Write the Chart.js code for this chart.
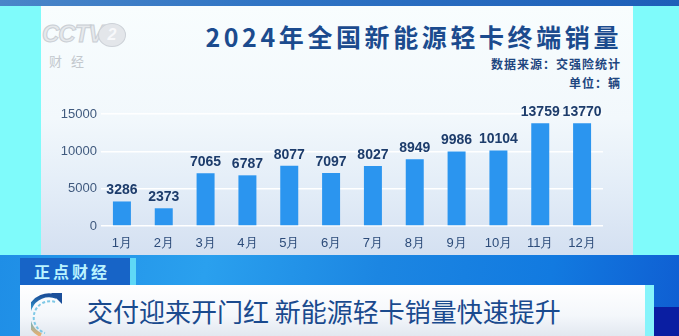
<!DOCTYPE html>
<html>
<head>
<meta charset="utf-8">
<script src="https://cdn.jsdelivr.net/npm/chart.js@4/dist/chart.umd.min.js"></script>
<style>
  html, body { margin: 0; padding: 0; }
  body {
    width: 679px; height: 336px; position: relative; overflow: hidden;
    background: #7ffbfb;
    font-family: "Noto Sans CJK SC", "Noto Sans", sans-serif;
  }
  .topbar {
    position: absolute; left: 0; top: 0; width: 679px; height: 6px;
    background: linear-gradient(90deg, #4a86c8, #2f74c4 40%, #1d5fb8);
  }
  .panel {
    position: absolute; left: 41px; top: 6px; width: 592px; height: 249px;
    background: linear-gradient(180deg, #f8fdfe 0%, #f2f8fc 45%, #e2ecf7 75%, #d4e0f1 100%);
  }
  .title {
    position: absolute; right: 57px; top: 18px;
    font-size: 25px; font-weight: 700; color: #1b4b8e; letter-spacing: 3.6px;
    white-space: nowrap; line-height: 36px;
  }
  .sub {
    position: absolute; right: 58px;
    font-size: 12px; font-weight: 700; color: #1e4680; letter-spacing: 1px;
    white-space: nowrap; line-height: 16px;
  }
  .logo { position: absolute; left: 42px; top: 20px; color: #d9dde2; }
  .logo .cctv {
    position: absolute; left: 0; top: 0; font: italic 700 24px "Liberation Sans", sans-serif;
    color: #e6e9ec; -webkit-text-stroke: 1px #c9ced4; letter-spacing: -1px;
  }
  .logo .ring {
    position: absolute; left: 56px; top: 3px; width: 26px; height: 22px; border-radius: 50%;
    background: #e3e6ea; border: 1px solid #cdd2d8;
    font: italic 700 16px "Liberation Sans", sans-serif; color: #f7f8fa; text-align: center; line-height: 22px;
  }
  .logo .cj {
    position: absolute; left: 7px; top: 31px; font-size: 13px; letter-spacing: 9px; color: #c3c8ce;
    white-space: nowrap;
  }
  .band {
    position: absolute; left: 0; top: 255px; width: 679px; height: 81px;
    background: linear-gradient(100deg, #1f8ee6 0%, #2aa0ee 30%, #1c86e2 55%, #127ae0 80%, #0f5ed2 100%);
  }
  .band .dark {
    position: absolute; right: 0; top: 52px; width: 26px; height: 29px; background: #0a1ea2;
  }
  .tag {
    position: absolute; left: 20px; top: 258px; width: 110px; height: 27px;
    background: #1764c7; color: #b9f3ff; font-size: 16px; font-weight: 700; letter-spacing: 3px;
    line-height: 27px; text-indent: 14px; white-space: nowrap;
  }
  .tagedge { position: absolute; left: 130px; top: 258px; width: 6px; height: 27px; background: #5fd8f6; }
  .caption {
    position: absolute; left: 20px; top: 285px; width: 625px; height: 51px;
    background: linear-gradient(180deg, #ffffff 0%, #f4f7fb 60%, #e2e8f0 100%);
  }
  .capedge { position: absolute; left: 645px; top: 285px; width: 9px; height: 51px; background: #86f4fb; }
  .caption .txt {
    position: absolute; left: 67px; top: 9px; font-size: 26px; color: #1a4a8e;
    white-space: nowrap; line-height: 34px;
  }
  .caption svg { position: absolute; left: 11px; top: 6px; }
  #wrap { position: absolute; left: 42px; top: 96px; width: 570px; height: 154px; }
</style>
</head>
<body>
<div class="topbar"></div>
<div class="panel"></div>
<div class="logo">
  <div class="cctv">CCTV</div>
  <div class="ring">2</div>
  <div class="cj">财经</div>
</div>
<div class="title">2024年全国新能源轻卡终端销量</div>
<div class="sub" style="top:56px">数据来源：交强险统计</div>
<div class="sub" style="top:75px">单位：辆</div>

<div id="wrap"><canvas id="chart"></canvas></div>

<div class="band"><div class="dark"></div></div>
<div class="tag">正点财经</div>
<div class="tagedge"></div>
<div class="caption">
  <svg width="34" height="46" viewBox="0 0 34 46">
    <defs>
      <linearGradient id="arc" x1="0" y1="0" x2="0" y2="1">
        <stop offset="0" stop-color="#1b4f9a"/>
        <stop offset="0.5" stop-color="#3bb4e0"/>
        <stop offset="1" stop-color="#e8b070"/>
      </linearGradient>
    </defs>
    <path d="M26 6 A20 20 0 0 0 10 44" fill="none" stroke="url(#arc)" stroke-width="4"/>
    <path d="M24 11 A15 15 0 0 0 14 42" fill="none" stroke="#7ec8e6" stroke-width="2" stroke-dasharray="3 2"/>
    <path d="M20 2 L31 2 L31 13 Z" fill="#1b4f9a"/>
  </svg>
  <div class="txt">交付迎来开门红 新能源轻卡销量快速提升</div>
</div>
<div class="capedge"></div>

<script>
const months = ["1月", "2月", "3月", "4月", "5月", "6月", "7月", "8月", "9月", "10月", "11月", "12月"];
const sales = [3286, 2373, 7065, 6787, 8077, 7097, 8027, 8949, 9986, 10104, 13759, 13770];
const yTicks = [0, 5000, 10000, 15000];

// value labels above each bar
const barValues = {
  id: "barValues",
  afterDatasetsDraw(chart) {
    const ctx = chart.ctx;
    const meta = chart.getDatasetMeta(0);
    ctx.save();
    ctx.font = "bold 14px 'Liberation Sans', Arial, sans-serif";
    ctx.fillStyle = "#1d3c6b";
    ctx.textAlign = "center";
    ctx.textBaseline = "bottom";
    meta.data.forEach((bar, i) => {
      ctx.fillText(String(sales[i]), bar.x, bar.y - 4);
    });
    ctx.restore();
  }
};

new Chart(document.getElementById("chart"), {
  type: "bar",
  data: {
    labels: months,
    datasets: [{
      data: sales,
      backgroundColor: "#2b95ef",
      barPercentage: 0.43,
      categoryPercentage: 1
    }]
  },
  options: {
    responsive: true,
    maintainAspectRatio: false,
    animation: false,
    layout: { padding: { top: 18, right: 9, left: 0, bottom: 0 } },
    plugins: { legend: { display: false }, tooltip: { enabled: false } },
    scales: {
      x: {
        grid: { display: false },
        border: { display: false },
        ticks: {
          color: "#2c4b79",
          font: { family: "'Liberation Sans', Arial, sans-serif", size: 13 },
          padding: 2,
          maxRotation: 0
        },
        afterFit(scale) { scale.height = 24; }
      },
      y: {
        min: 0,
        max: 15000,
        grid: { color: "#ffffff", lineWidth: 1.5, drawTicks: false },
        border: { display: false },
        afterBuildTicks(scale) { scale.ticks = yTicks.map(v => ({ value: v })); },
        ticks: {
          color: "#405a7e",
          font: { family: "'Liberation Sans', Arial, sans-serif", size: 13 },
          padding: 4,
          callback: v => String(v)
        },
        afterFit(scale) { scale.width = 59; }
      }
    }
  },
  plugins: [barValues]
});
</script>
</body>
</html>
